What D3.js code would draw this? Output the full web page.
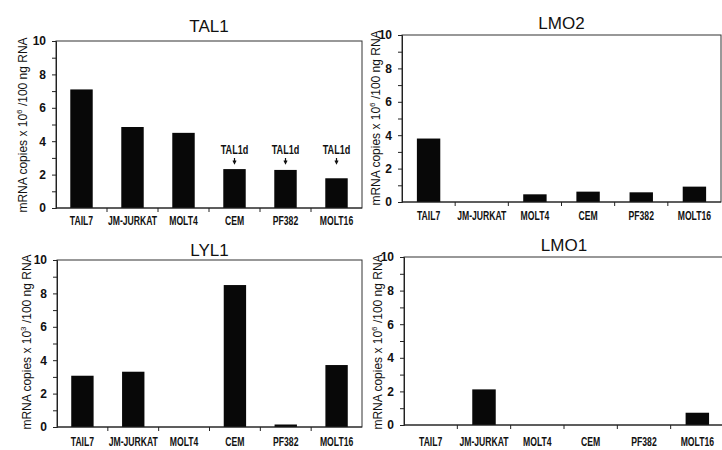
<!DOCTYPE html>
<html>
<head>
<meta charset="utf-8">
<script src="https://cdn.jsdelivr.net/npm/d3@7"></script>
<style>
  body { margin: 0; background: #fff; }
  svg { display: block; font-family: "Liberation Sans", Arial, sans-serif; }
</style>
</head>
<body>
<svg id="chart" width="722" height="450"></svg>
<script>
// cell lines on every x axis
var cellLines = ["TAIL7", "JM-JURKAT", "MOLT4", "CEM", "PF382", "MOLT16"];

// mRNA copies
var tal1 = [7.1, 4.85, 4.5, 2.33, 2.28, 1.78];
var lmo2 = [3.8, 0, 0.46, 0.62, 0.58, 0.92];
var lyl1 = [3.07, 3.31, 0, 8.5, 0.15, 3.71];
var lmo1 = [0, 2.12, 0, 0, 0, 0.73];

var tal1Notes = ["", "", "", "TAL1d", "TAL1d", "TAL1d"];
var yTicks = [0, 1, 2, 3, 4, 5, 6, 7, 8, 9, 10];

// panel placement
var panels = [
  { title: "TAL1", values: tal1, notes: tal1Notes, sup: "6",
    x0: 56, x1: 362, top: 41, bottom: 208, titleY: 32, labelY: 225, ylabX: 23, ylabY: 125 },
  { title: "LMO2", values: lmo2, notes: null, sup: "6",
    x0: 402, x1: 721, top: 35, bottom: 202, titleY: 29, labelY: 220, ylabX: 376, ylabY: 118 },
  { title: "LYL1", values: lyl1, notes: null, sup: "3",
    x0: 57, x1: 362, top: 260, bottom: 427, titleY: 256, labelY: 446, ylabX: 27, ylabY: 342 },
  { title: "LMO1", values: lmo1, notes: null, sup: "6",
    x0: 404, x1: 724, top: 257, bottom: 425, titleY: 251, labelY: 446, ylabX: 378, ylabY: 342 }
];

var svg = d3.select("#chart");

// condensed text: a group at (cx, cy) holding text scaled horizontally
function condensed(parent, data, cx, cy, txt, size, f) {
  return parent.selectAll(null)
      .data(data)
      .enter()
      .append("g")
      .attr("transform", function(d, i) { return "translate(" + cx(d, i) + "," + cy + ")"; })
      .append("text")
      .attr("transform", "scale(" + f + ",1)")
      .attr("text-anchor", "middle")
      .attr("font-size", size)
      .attr("font-weight", "bold")
      .attr("fill", "#111")
      .text(txt);
}

panels.forEach(function(p) {
  var g = svg.append("g");

  var x = d3.scaleBand()
      .domain(cellLines)
      .range([p.x0, p.x1]);

  var y = d3.scaleLinear()
      .domain([0, 10])
      .range([p.bottom, p.top]);

  var barW = x.bandwidth() * 0.44;

  // frame
  g.append("rect")
      .attr("x", p.x0)
      .attr("y", p.top)
      .attr("width", p.x1 - p.x0)
      .attr("height", p.bottom - p.top)
      .attr("fill", "none")
      .attr("stroke", "#333")
      .attr("stroke-width", 1);

  // bars
  g.selectAll(".bar")
      .data(p.values)
      .enter()
      .append("rect")
      .attr("x", function(d, i) { return x(cellLines[i]) + (x.bandwidth() - barW) / 2; })
      .attr("y", function(d) { return y(d); })
      .attr("width", barW)
      .attr("height", function(d) { return p.bottom - y(d); })
      .attr("fill", "#080808");

  // y axis
  var yAxis = d3.axisLeft(y)
      .tickValues(yTicks)
      .tickSize(4)
      .tickPadding(6)
      .tickFormat(function(d) { return d % 2 ? "" : d; });

  var ya = g.append("g")
      .attr("transform", "translate(" + p.x0 + ",0)")
      .call(yAxis);
  ya.select(".domain").attr("stroke", "#222");
  ya.selectAll(".tick line").attr("stroke", "#222");
  ya.selectAll(".tick text")
      .attr("font-size", 12)
      .attr("font-weight", "bold")
      .attr("fill", "#111")
      .attr("font-family", "Liberation Sans, Arial, sans-serif");

  // x axis: line, ticks between categories, labels centred in band
  g.append("line")
      .attr("x1", p.x0).attr("x2", p.x1)
      .attr("y1", p.bottom).attr("y2", p.bottom)
      .attr("stroke", "#222");

  g.selectAll(".xt")
      .data(cellLines.slice(1))
      .enter()
      .append("line")
      .attr("x1", function(d) { return x(d); })
      .attr("x2", function(d) { return x(d); })
      .attr("y1", p.bottom)
      .attr("y2", p.bottom + 4)
      .attr("stroke", "#222");

  condensed(g, cellLines,
      function(d) { return x(d) + x.bandwidth() / 2; }, p.labelY,
      function(d) { return d; }, 12, 0.72);

  // title
  g.append("text")
      .attr("x", (p.x0 + p.x1) / 2)
      .attr("y", p.titleY)
      .attr("text-anchor", "middle")
      .attr("font-size", 17)
      .attr("fill", "#111")
      .text(p.title);

  // y label
  var yl = g.append("text")
      .attr("transform", "translate(" + p.ylabX + "," + p.ylabY + ") rotate(-90)")
      .attr("text-anchor", "middle")
      .attr("dy", "0.35em")
      .attr("font-size", 12)
      .attr("fill", "#111");
  yl.append("tspan").text("mRNA copies x 10");
  yl.append("tspan").attr("dy", -5).attr("font-size", 8).text(p.sup);
  yl.append("tspan").attr("dy", 5).text(" /100 ng RNA");

  // annotations with arrows
  if (p.notes) {
    var notes = p.notes.map(function(n, i) { return { n: n, c: cellLines[i] }; })
        .filter(function(d) { return d.n; });

    condensed(g, notes,
        function(d) { return x(d.c) + x.bandwidth() / 2; }, 154,
        function(d) { return d.n; }, 13, 0.7);

    g.selectAll(".arrow")
        .data(notes)
        .enter()
        .append("path")
        .attr("d", function(d) {
          var cx = x(d.c) + x.bandwidth() / 2;
          return "M" + cx + ",158 L" + cx + ",162 M" + (cx - 1.5) + ",160.5 L" + cx + ",163.5 L" + (cx + 1.5) + ",160.5";
        })
        .attr("fill", "none")
        .attr("stroke", "#111")
        .attr("stroke-width", 1.2);
  }
});
</script>
</body>
</html>
